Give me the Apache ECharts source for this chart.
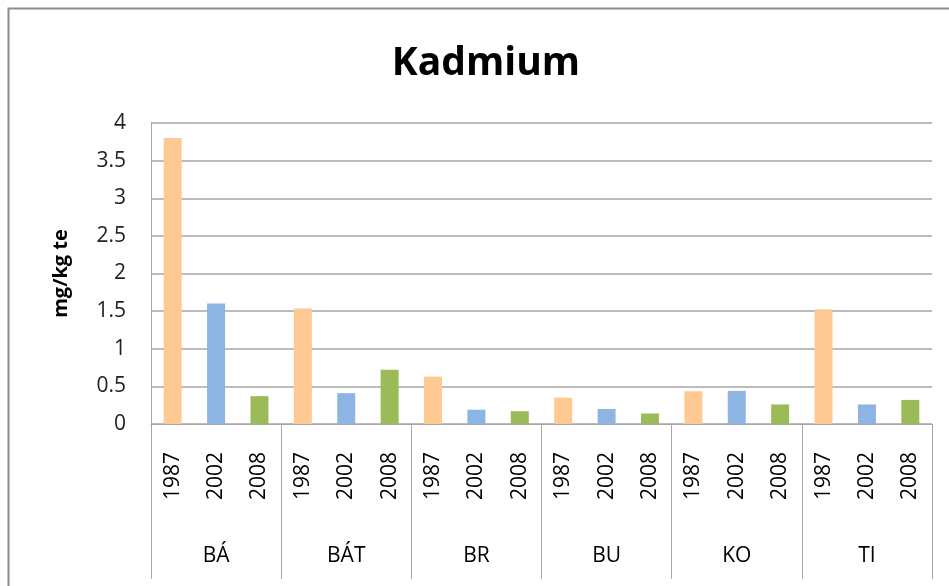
<!DOCTYPE html>
<html>
<head>
<meta charset="utf-8">
<script src="https://cdn.jsdelivr.net/npm/echarts@6/dist/echarts.min.js"></script>
<style>html,body{margin:0;padding:0;background:#fff;}#c{width:949px;height:586px;}</style>
</head>
<body>
<div id="c"></div>
<script>
const groups = ['BÁ', 'BÁT', 'BR', 'BU', 'KO', 'TI'];
const years = ['1987', '2002', '2008'];
const v1987 = [3.8, 1.535, 0.63, 0.35, 0.435, 1.525];
const v2002 = [1.6, 0.41, 0.19, 0.2, 0.44, 0.26];
const v2008 = [0.37, 0.72, 0.17, 0.14, 0.26, 0.32];
const yTicks = [0, 0.5, 1, 1.5, 2, 2.5, 3, 3.5, 4];
const yearColors = ['#FFC993', '#8EB4E3', '#9BBB59'];

const seriesByYear = [v1987, v2002, v2008];
const cats = [];
const barData = [];
groups.forEach((g, gi) => {
  years.forEach((y, yi) => {
    cats.push(y);
    barData.push({ value: seriesByYear[yi][gi], itemStyle: { color: yearColors[yi] } });
  });
});

const chart = echarts.init(document.getElementById('c'));
chart.setOption({
  animation: false,
  backgroundColor: '#fff',
  title: {
    text: 'Kadmium',
    left: 481, top: 39, textAlign: 'center',
    textStyle: { fontFamily: 'Open Sans', fontWeight: 'bold', fontSize: 39, color: '#000' }
  },
  graphic: [{
    type: 'polyline',
    shape: { points: [[8.5, 600], [8.5, 8.5], [960, 8.5]] },
    style: { stroke: '#8c8c8c', lineWidth: 2, fill: null }
  }],
  grid: { left: 151, right: 17, top: 123, bottom: 162 },
  xAxis: [{
    type: 'category',
    data: cats,
    axisLine: { show: true, lineStyle: { color: '#a6a6a6', width: 1 } },
    axisTick: { show: false },
    axisLabel: { rotate: 90, margin: 28, fontFamily: 'Open Sans', fontSize: 21, color: '#000', interval: 0 }
  }, {
    type: 'category',
    data: groups,
    position: 'bottom',
    axisLine: { show: false },
    axisTick: { show: true, length: 155, lineStyle: { color: '#a6a6a6', width: 1 } },
    axisLabel: { margin: 122, fontFamily: 'Open Sans', fontSize: 21, color: '#000', interval: 0 }
  }],
  yAxis: {
    type: 'value',
    min: 0, max: 4, interval: 0.5,
    name: 'mg/kg te',
    nameLocation: 'middle',
    nameGap: 80,
    nameRotate: 90,
    nameTextStyle: { fontFamily: 'Open Sans', fontWeight: 'bold', fontSize: 20, color: '#000' },
    axisLine: { show: true, lineStyle: { color: '#a6a6a6' } },
    axisTick: { show: false },
    splitLine: { lineStyle: { color: '#a6a6a6', width: 1.5 } },
    axisLabel: {
      margin: 25, fontFamily: 'Open Sans', fontSize: 21, color: '#222',
      formatter: v => { const t = yTicks.find(x => Math.abs(x - v) < 1e-9); return t === undefined ? '' : String(t); }
    }
  },
  series: [{
    type: 'bar',
    xAxisIndex: 0,
    data: barData,
    barWidth: 18
  }]
});
</script>
</body>
</html>
